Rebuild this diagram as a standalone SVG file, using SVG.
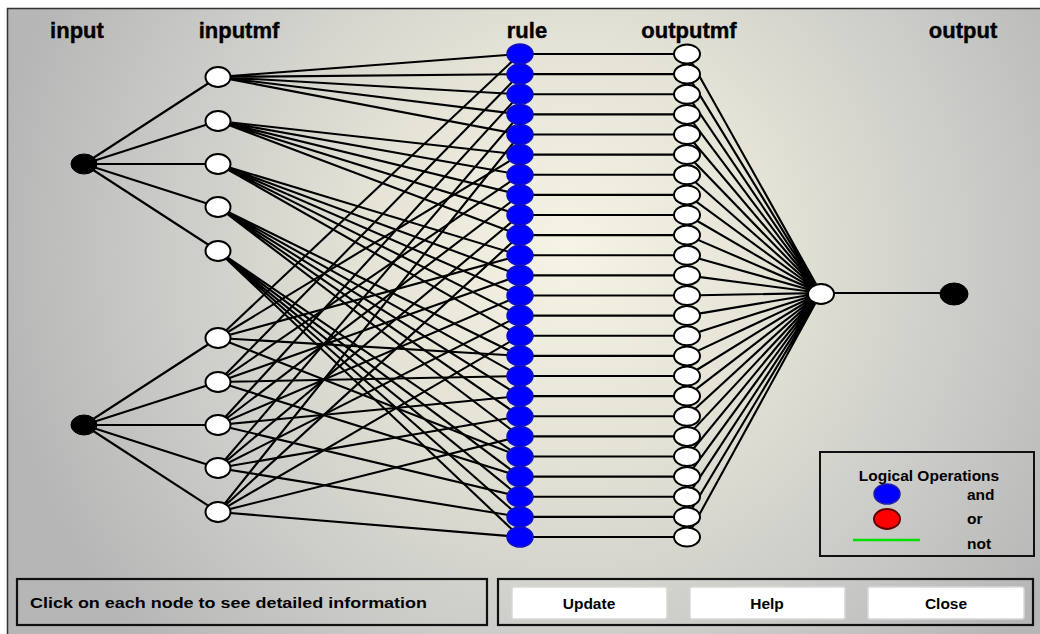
<svg xmlns="http://www.w3.org/2000/svg" width="1040" height="634" viewBox="0 0 1040 634">
<style>
.e{stroke:#000;stroke-width:2.1;fill:none;stroke-linecap:round}
.w{fill:#fff;stroke:#000;stroke-width:2}
.b{fill:#000;stroke:#000;stroke-width:1}
.r{fill:#0000ff;stroke:#1010c0;stroke-width:1.5}
.lbl{font-family:"Liberation Sans",Arial,sans-serif;font-weight:bold;font-size:22px;text-anchor:middle;fill:#000;stroke:#000;stroke-width:0.4}
.sm{font-family:"Liberation Sans",Arial,sans-serif;font-weight:bold;font-size:15.5px;fill:#000}
.btn{fill:#fff;stroke:#d8d8d8;stroke-width:1.5}
.box{fill:none;stroke:#111;stroke-width:2.2}
</style>
<defs>
<radialGradient id="bg" gradientUnits="userSpaceOnUse" cx="570" cy="250" r="580">
<stop offset="0" stop-color="#f6f4e4"/>
<stop offset="0.35" stop-color="#e4e3d6"/>
<stop offset="0.7" stop-color="#cbcbc8"/>
<stop offset="1" stop-color="#b6b6b6"/>
</radialGradient>
</defs>
<rect x="0" y="0" width="1040" height="634" fill="#fff"/>
<rect x="7" y="8" width="1033" height="626" fill="url(#bg)"/>
<path d="M7.5 634 V8.5 H1040" fill="none" stroke="#333" stroke-width="1.5"/>

<g id="labels">
<text class="lbl" x="77" y="38">input</text>
<text class="lbl" x="239" y="38">inputmf</text>
<text class="lbl" x="527" y="38">rule</text>
<text class="lbl" x="689" y="38">outputmf</text>
<text class="lbl" x="963" y="38">output</text>
</g>

<g id="connectors">
<path class="e" d="M84 164 L218 77 M84 164 L218 121 M84 164 L218 164 M84 164 L218 207 M84 164 L218 251"/>
<path class="e" d="M84 425 L218 338 M84 425 L218 382 M84 425 L218 425 M84 425 L218 468 M84 425 L218 512"/>
<path class="e" d="M218 77 L520 54 M218 77 L520 74.1 M218 77 L520 94.3 M218 77 L520 114.4 M218 77 L520 134.5"/>
<path class="e" d="M218 121 L520 154.6 M218 121 L520 174.8 M218 121 L520 194.9 M218 121 L520 215 M218 121 L520 235.1"/>
<path class="e" d="M218 164 L520 255.3 M218 164 L520 275.4 M218 164 L520 295.5 M218 164 L520 315.6 M218 164 L520 335.8"/>
<path class="e" d="M218 207 L520 355.9 M218 207 L520 376 M218 207 L520 396.1 M218 207 L520 416.3 M218 207 L520 436.4"/>
<path class="e" d="M218 251 L520 456.5 M218 251 L520 476.6 M218 251 L520 496.8 M218 251 L520 516.9 M218 251 L520 537"/>
<path class="e" d="M218 338 L520 54 M218 338 L520 154.6 M218 338 L520 255.3 M218 338 L520 355.9 M218 338 L520 456.5"/>
<path class="e" d="M218 382 L520 74.1 M218 382 L520 174.8 M218 382 L520 275.4 M218 382 L520 376 M218 382 L520 476.6"/>
<path class="e" d="M218 425 L520 94.3 M218 425 L520 194.9 M218 425 L520 295.5 M218 425 L520 396.1 M218 425 L520 496.8"/>
<path class="e" d="M218 468 L520 114.4 M218 468 L520 215 M218 468 L520 315.6 M218 468 L520 416.3 M218 468 L520 516.9"/>
<path class="e" d="M218 512 L520 134.5 M218 512 L520 235.1 M218 512 L520 335.8 M218 512 L520 436.4 M218 512 L520 537"/>
<path class="e" d="M520 54 H687 M520 74.1 H687 M520 94.3 H687 M520 114.4 H687 M520 134.5 H687 M520 154.6 H687 M520 174.8 H687 M520 194.9 H687 M520 215 H687 M520 235.1 H687 M520 255.3 H687 M520 275.4 H687 M520 295.5 H687 M520 315.6 H687 M520 335.8 H687 M520 355.9 H687 M520 376 H687 M520 396.1 H687 M520 416.3 H687 M520 436.4 H687 M520 456.5 H687 M520 476.6 H687 M520 496.8 H687 M520 516.9 H687 M520 537 H687"/>
<path class="e" d="M687 54 L821 293 M687 74.1 L821 293 M687 94.3 L821 293 M687 114.4 L821 293 M687 134.5 L821 293 M687 154.6 L821 293 M687 174.8 L821 293 M687 194.9 L821 293 M687 215 L821 293 M687 235.1 L821 293 M687 255.3 L821 293 M687 275.4 L821 293 M687 295.5 L821 293 M687 315.6 L821 293 M687 335.8 L821 293 M687 355.9 L821 293 M687 376 L821 293 M687 396.1 L821 293 M687 416.3 L821 293 M687 436.4 L821 293 M687 456.5 L821 293 M687 476.6 L821 293 M687 496.8 L821 293 M687 516.9 L821 293 M687 537 L821 293"/>
<path class="e" d="M821 293 H954"/>
</g>

<g id="input1"><ellipse class="b" cx="84" cy="164" rx="13" ry="10"/></g>
<g id="input2"><ellipse class="b" cx="84" cy="425" rx="13" ry="10"/></g>

<g id="in1mf1"><ellipse class="w" cx="218" cy="77" rx="12.5" ry="10"/></g>
<g id="in1mf2"><ellipse class="w" cx="218" cy="121" rx="12.5" ry="10"/></g>
<g id="in1mf3"><ellipse class="w" cx="218" cy="164" rx="12.5" ry="10"/></g>
<g id="in1mf4"><ellipse class="w" cx="218" cy="207" rx="12.5" ry="10"/></g>
<g id="in1mf5"><ellipse class="w" cx="218" cy="251" rx="12.5" ry="10"/></g>
<g id="in2mf1"><ellipse class="w" cx="218" cy="338" rx="12.5" ry="10"/></g>
<g id="in2mf2"><ellipse class="w" cx="218" cy="382" rx="12.5" ry="10"/></g>
<g id="in2mf3"><ellipse class="w" cx="218" cy="425" rx="12.5" ry="10"/></g>
<g id="in2mf4"><ellipse class="w" cx="218" cy="468" rx="12.5" ry="10"/></g>
<g id="in2mf5"><ellipse class="w" cx="218" cy="512" rx="12.5" ry="10"/></g>

<g id="rule1"><ellipse class="r" cx="520" cy="54" rx="13" ry="10"/></g>
<g id="rule2"><ellipse class="r" cx="520" cy="74.1" rx="13" ry="10"/></g>
<g id="rule3"><ellipse class="r" cx="520" cy="94.3" rx="13" ry="10"/></g>
<g id="rule4"><ellipse class="r" cx="520" cy="114.4" rx="13" ry="10"/></g>
<g id="rule5"><ellipse class="r" cx="520" cy="134.5" rx="13" ry="10"/></g>
<g id="rule6"><ellipse class="r" cx="520" cy="154.6" rx="13" ry="10"/></g>
<g id="rule7"><ellipse class="r" cx="520" cy="174.8" rx="13" ry="10"/></g>
<g id="rule8"><ellipse class="r" cx="520" cy="194.9" rx="13" ry="10"/></g>
<g id="rule9"><ellipse class="r" cx="520" cy="215" rx="13" ry="10"/></g>
<g id="rule10"><ellipse class="r" cx="520" cy="235.1" rx="13" ry="10"/></g>
<g id="rule11"><ellipse class="r" cx="520" cy="255.3" rx="13" ry="10"/></g>
<g id="rule12"><ellipse class="r" cx="520" cy="275.4" rx="13" ry="10"/></g>
<g id="rule13"><ellipse class="r" cx="520" cy="295.5" rx="13" ry="10"/></g>
<g id="rule14"><ellipse class="r" cx="520" cy="315.6" rx="13" ry="10"/></g>
<g id="rule15"><ellipse class="r" cx="520" cy="335.8" rx="13" ry="10"/></g>
<g id="rule16"><ellipse class="r" cx="520" cy="355.9" rx="13" ry="10"/></g>
<g id="rule17"><ellipse class="r" cx="520" cy="376" rx="13" ry="10"/></g>
<g id="rule18"><ellipse class="r" cx="520" cy="396.1" rx="13" ry="10"/></g>
<g id="rule19"><ellipse class="r" cx="520" cy="416.3" rx="13" ry="10"/></g>
<g id="rule20"><ellipse class="r" cx="520" cy="436.4" rx="13" ry="10"/></g>
<g id="rule21"><ellipse class="r" cx="520" cy="456.5" rx="13" ry="10"/></g>
<g id="rule22"><ellipse class="r" cx="520" cy="476.6" rx="13" ry="10"/></g>
<g id="rule23"><ellipse class="r" cx="520" cy="496.8" rx="13" ry="10"/></g>
<g id="rule24"><ellipse class="r" cx="520" cy="516.9" rx="13" ry="10"/></g>
<g id="rule25"><ellipse class="r" cx="520" cy="537" rx="13" ry="10"/></g>

<g id="outmf1"><ellipse class="w" cx="687" cy="54" rx="13" ry="9.5"/></g>
<g id="outmf2"><ellipse class="w" cx="687" cy="74.1" rx="13" ry="9.5"/></g>
<g id="outmf3"><ellipse class="w" cx="687" cy="94.3" rx="13" ry="9.5"/></g>
<g id="outmf4"><ellipse class="w" cx="687" cy="114.4" rx="13" ry="9.5"/></g>
<g id="outmf5"><ellipse class="w" cx="687" cy="134.5" rx="13" ry="9.5"/></g>
<g id="outmf6"><ellipse class="w" cx="687" cy="154.6" rx="13" ry="9.5"/></g>
<g id="outmf7"><ellipse class="w" cx="687" cy="174.8" rx="13" ry="9.5"/></g>
<g id="outmf8"><ellipse class="w" cx="687" cy="194.9" rx="13" ry="9.5"/></g>
<g id="outmf9"><ellipse class="w" cx="687" cy="215" rx="13" ry="9.5"/></g>
<g id="outmf10"><ellipse class="w" cx="687" cy="235.1" rx="13" ry="9.5"/></g>
<g id="outmf11"><ellipse class="w" cx="687" cy="255.3" rx="13" ry="9.5"/></g>
<g id="outmf12"><ellipse class="w" cx="687" cy="275.4" rx="13" ry="9.5"/></g>
<g id="outmf13"><ellipse class="w" cx="687" cy="295.5" rx="13" ry="9.5"/></g>
<g id="outmf14"><ellipse class="w" cx="687" cy="315.6" rx="13" ry="9.5"/></g>
<g id="outmf15"><ellipse class="w" cx="687" cy="335.8" rx="13" ry="9.5"/></g>
<g id="outmf16"><ellipse class="w" cx="687" cy="355.9" rx="13" ry="9.5"/></g>
<g id="outmf17"><ellipse class="w" cx="687" cy="376" rx="13" ry="9.5"/></g>
<g id="outmf18"><ellipse class="w" cx="687" cy="396.1" rx="13" ry="9.5"/></g>
<g id="outmf19"><ellipse class="w" cx="687" cy="416.3" rx="13" ry="9.5"/></g>
<g id="outmf20"><ellipse class="w" cx="687" cy="436.4" rx="13" ry="9.5"/></g>
<g id="outmf21"><ellipse class="w" cx="687" cy="456.5" rx="13" ry="9.5"/></g>
<g id="outmf22"><ellipse class="w" cx="687" cy="476.6" rx="13" ry="9.5"/></g>
<g id="outmf23"><ellipse class="w" cx="687" cy="496.8" rx="13" ry="9.5"/></g>
<g id="outmf24"><ellipse class="w" cx="687" cy="516.9" rx="13" ry="9.5"/></g>
<g id="outmf25"><ellipse class="w" cx="687" cy="537" rx="13" ry="9.5"/></g>

<g id="outsum"><ellipse class="w" cx="821" cy="294" rx="13" ry="10"/></g>
<g id="output"><ellipse class="b" cx="954" cy="294" rx="14" ry="11"/></g>

<g id="legend">
<rect x="820" y="452" width="214" height="104" fill="none" stroke="#111" stroke-width="2"/>
<text class="sm" x="929" y="481" text-anchor="middle">Logical Operations</text>
<ellipse cx="887" cy="494" rx="13" ry="10" fill="#0000ff" stroke="#2020a0" stroke-width="1.5"/>
<text class="sm" x="967" y="500">and</text>
<ellipse cx="887" cy="519" rx="13" ry="10" fill="#ff0000" stroke="#600000" stroke-width="2"/>
<text class="sm" x="967" y="524">or</text>
<line x1="853" y1="540" x2="920" y2="540" stroke="#00e000" stroke-width="2.5"/>
<text class="sm" x="967" y="549">not</text>
</g>

<g id="status">
<rect class="box" x="17" y="579" width="470" height="46"/>
<text class="sm" x="30" y="608" textLength="397" lengthAdjust="spacingAndGlyphs">Click on each node to see detailed information</text>
</g>

<g id="buttons">
<rect class="box" x="498" y="579" width="535" height="46"/>
<g id="btn-update"><rect class="btn" x="512" y="587" width="155" height="32" rx="2"/><text class="sm" x="589" y="609" text-anchor="middle">Update</text></g>
<g id="btn-help"><rect class="btn" x="690" y="587" width="155" height="32" rx="2"/><text class="sm" x="767" y="609" text-anchor="middle">Help</text></g>
<g id="btn-close"><rect class="btn" x="868" y="587" width="156" height="32" rx="2"/><text class="sm" x="946" y="609" text-anchor="middle">Close</text></g>
</g>
</svg>
